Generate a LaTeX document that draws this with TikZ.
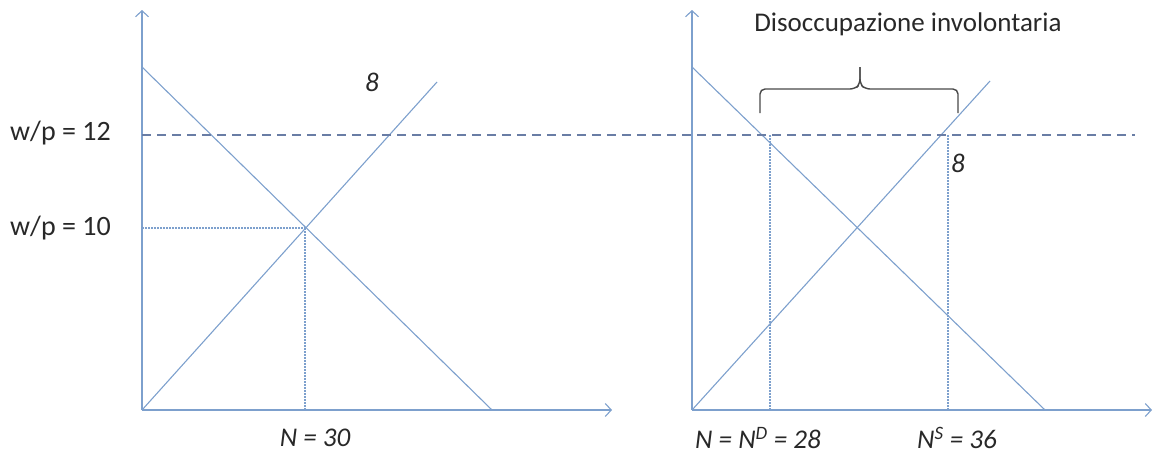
\documentclass[tikz,border=0pt]{standalone}
\usepackage{fontspec}
\setmainfont{Carlito}
\usetikzlibrary{arrows.meta}
\definecolor{axc}{RGB}{125,160,205}
\definecolor{dashc}{RGB}{105,125,165}
\definecolor{txt}{RGB}{40,40,40}
\tikzset{
  axis/.style={draw=axc, line width=1.3pt, -{Straight Barb[length=6pt,width=13pt,line width=1.1pt]}},
  curve/.style={draw=axc, line width=1.1pt},
  guide/.style={draw=axc, line width=1.1pt, dash pattern=on 2pt off 1pt},
  level/.style={draw=dashc, line width=1.1pt, dash pattern=on 9pt off 6pt},
  bracec/.style={draw=txt!85, line width=1.4pt, rounded corners=5pt},
  lab/.style={text=txt, font=\fontsize{28}{32}\selectfont, inner sep=0pt},
  ilab/.style={lab, font=\fontsize{27}{30}\selectfont\itshape},
  ttl/.style={text=txt, font=\fontsize{27}{30}\selectfont, inner sep=0pt}
}
\begin{document}
\begin{tikzpicture}[x=1pt,y=-1pt]
\useasboundingbox (0,0) rectangle (1159,453);
% coordinates
\coordinate (O1) at (142,410);
\coordinate (Y1) at (142,10);
\coordinate (X1) at (612,410);
\coordinate (D1a) at (142,67);
\coordinate (D1b) at (492,410);
\coordinate (S1b) at (437,82);
\coordinate (E1) at (305,228);
\coordinate (E1x) at (305,410);
\coordinate (E1y) at (142,228);
\coordinate (O2) at (692,410);
\coordinate (Y2) at (692,10);
\coordinate (X2) at (1152,410);
\coordinate (D2a) at (692,67);
\coordinate (D2b) at (1045,410);
\coordinate (S2b) at (990,81);
\coordinate (L0) at (142,135);
\coordinate (L1) at (1135,135);
\coordinate (Pd) at (770,135);
\coordinate (Pdx) at (770,410);
\coordinate (Ps) at (948,135);
\coordinate (Psx) at (948,410);
% axes
\draw[axis] (O1) -- (Y1);
\draw[axis] (O1) -- (X1);
\draw[axis] (O2) -- (Y2);
\draw[axis] (O2) -- (X2);
% curves
\draw[curve] (D1a) -- (D1b);
\draw[curve] (O1) -- (S1b);
\draw[curve] (D2a) -- (D2b);
\draw[curve] (O2) -- (S2b);
% guides
\draw[guide] (E1y) -- (E1);
\draw[guide] (E1) -- (E1x);
\draw[guide] (Pd) -- (Pdx);
\draw[guide] (Ps) -- (Psx);
\draw[level] (L0) -- (L1);
% brace
\draw[bracec] (760,113) -- (760,89) -- (855,89) -- (860,84) -- (860,67);
\draw[bracec] (860,67) -- (860,84) -- (865,89) -- (958,89) -- (958,113);
% labels
\node[lab, anchor=west] (w12) at (10,133) {w/p = 12};
\node[lab, anchor=west] (w10) at (10,228) {w/p = 10};
\node[ilab] (s1) at (372,82) {8};
\node[ilab] (s2) at (958,163) {8};
\node[ilab] (n30) at (315,438) {N = 30};
\node[ilab, anchor=west] (nd) at (695,438) {N = N\textsuperscript{D} = 28};
\node[ilab, anchor=west] (ns) at (917,438) {N\textsuperscript{S} = 36};
\node[ttl] (title) at (908,24) {Disoccupazione involontaria};
\end{tikzpicture}
\end{document}
